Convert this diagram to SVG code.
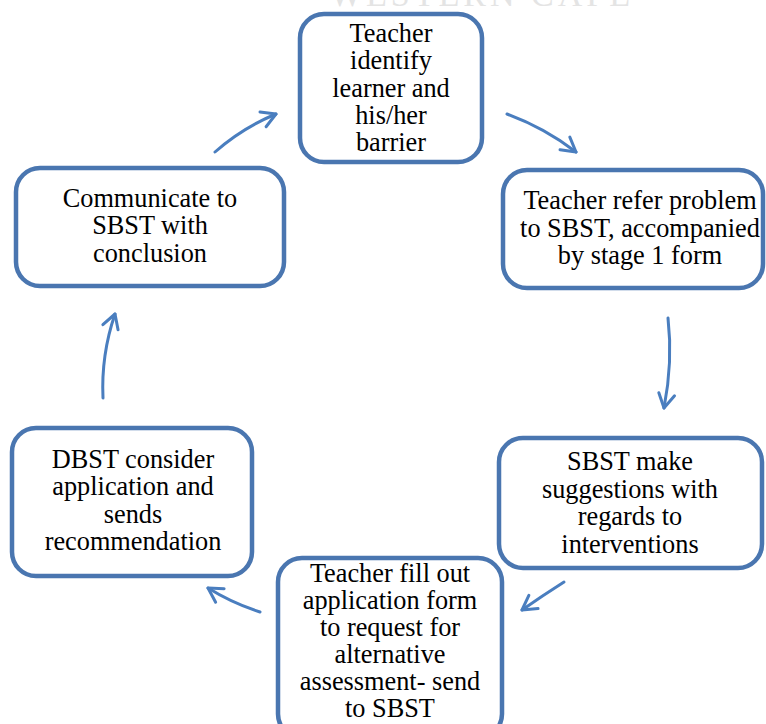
<svg xmlns="http://www.w3.org/2000/svg" width="766" height="724" viewBox="0 0 766 724">
<style>
.box{fill:#fff;stroke:#4a76b0;stroke-width:4.5}
.t{font-family:"Liberation Serif","Times New Roman",serif;font-size:26.3px;fill:#000;text-anchor:middle}
.arr{fill:none;stroke:#4a7ebf;stroke-width:3;stroke-linecap:round}
.wm{font-family:"Liberation Serif",serif;font-size:34px;fill:#e4e4e4;letter-spacing:4px}
</style>
<defs>
<marker id="ah" viewBox="0 0 20 20" refX="16" refY="10" markerWidth="20" markerHeight="20" markerUnits="userSpaceOnUse" orient="auto">
<path d="M2,2 L16,10 L2,18" fill="none" stroke="#4a7ebf" stroke-width="3" stroke-linecap="round" stroke-linejoin="round"/>
</marker>
</defs>
<rect width="766" height="724" fill="#fff"/>
<text class="wm" x="330" y="6">WESTERN CAPE</text>
<g id="connectors">
<path class="arr" d="M215,152 Q242,128 276,114" marker-end="url(#ah)"/>
<path class="arr" d="M507,114 Q545,128 576,152" marker-end="url(#ah)"/>
<path class="arr" d="M668,318 Q673,362 664,408" marker-end="url(#ah)"/>
<path class="arr" d="M564,582 Q542,596 522,610" marker-end="url(#ah)"/>
<path class="arr" d="M260,612 Q232,603 208,588" marker-end="url(#ah)"/>
<path class="arr" d="M103,398 Q101,355 115,314" marker-end="url(#ah)"/>
</g>
<g id="n1">
<rect class="box" x="300" y="14" width="182" height="148" rx="24"/>
<text class="t" x="391" y="42">Teacher</text>
<text class="t" x="391" y="69">identify</text>
<text class="t" x="391" y="97">learner and</text>
<text class="t" x="391" y="124">his/her</text>
<text class="t" x="391" y="151">barrier</text>
</g>
<g id="n2">
<rect class="box" x="503" y="170" width="260" height="118" rx="24"/>
<text class="t" x="640" y="209">Teacher refer problem</text>
<text class="t" x="640" y="237">to SBST, accompanied</text>
<text class="t" x="640" y="264">by stage 1 form</text>
</g>
<g id="n3">
<rect class="box" x="499" y="438" width="263" height="130" rx="24"/>
<text class="t" x="630" y="470">SBST make</text>
<text class="t" x="630" y="498">suggestions with</text>
<text class="t" x="630" y="525">regards to</text>
<text class="t" x="630" y="553">interventions</text>
</g>
<g id="n4">
<rect class="box" x="278" y="558" width="224" height="180" rx="24"/>
<text class="t" x="390" y="582">Teacher fill out</text>
<text class="t" x="390" y="609">application form</text>
<text class="t" x="390" y="636">to request for</text>
<text class="t" x="390" y="663">alternative</text>
<text class="t" x="390" y="690">assessment- send</text>
<text class="t" x="390" y="717">to SBST</text>
</g>
<g id="n5">
<rect class="box" x="12" y="428" width="240" height="148" rx="24"/>
<text class="t" x="133" y="468">DBST consider</text>
<text class="t" x="133" y="495">application and</text>
<text class="t" x="133" y="523">sends</text>
<text class="t" x="133" y="550">recommendation</text>
</g>
<g id="n6">
<rect class="box" x="16" y="168" width="268" height="118" rx="24"/>
<text class="t" x="150" y="207">Communicate to</text>
<text class="t" x="150" y="234">SBST with</text>
<text class="t" x="150" y="262">conclusion</text>
</g>
</svg>
